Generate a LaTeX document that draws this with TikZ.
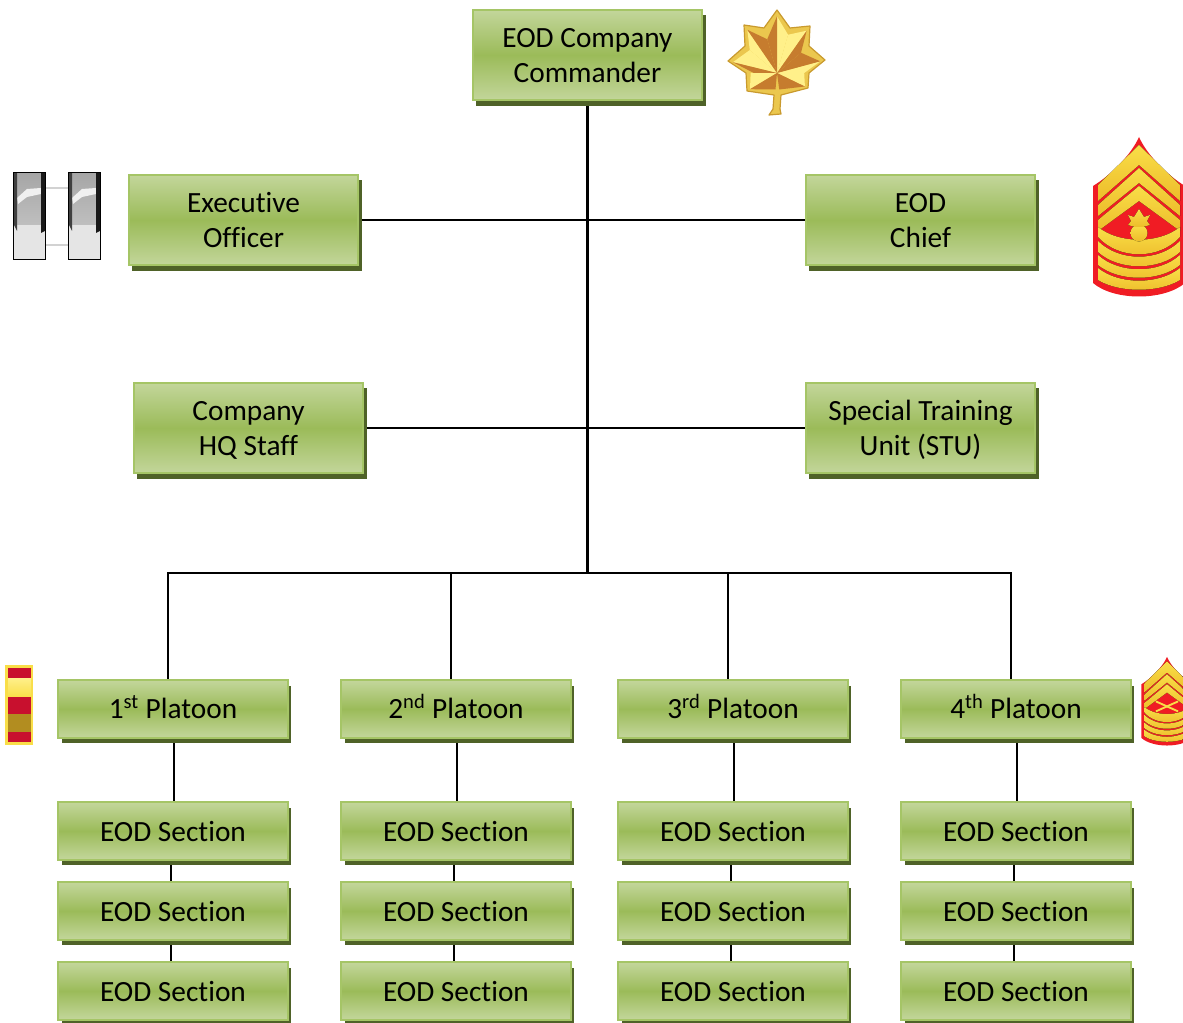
\documentclass[tikz,border=0pt]{standalone}
\usepackage{fontspec}
\setmainfont[Ligatures=NoCommon]{Carlito}
\usetikzlibrary{shadows,backgrounds,calc}
\definecolor{boxmid}{HTML}{9BBB59}
\definecolor{boxlight}{HTML}{C3D69B}
\definecolor{boxedge}{HTML}{A5C566}
\definecolor{boxshadow}{HTML}{4F6228}
\definecolor{stripered}{HTML}{F01C24}
\definecolor{stripegold}{HTML}{F9DE48}
\definecolor{stripedeep}{HTML}{EDBC2A}
\definecolor{leafgold}{HTML}{FFF08A}
\definecolor{leafbrown}{HTML}{C67C2E}
\definecolor{leafedge}{HTML}{C99A2E}
\definecolor{leafrim}{HTML}{EBC74E}
\definecolor{barred}{HTML}{C8102E}
\tikzset{
  orgbox/.style={draw=boxedge,line width=1.5pt,inner sep=0pt,align=center,
    minimum width=172pt,top color=boxlight,bottom color=boxlight,middle color=boxmid,
    font=\fontsize{22}{26.6}\selectfont,
    general shadow={shadow xshift=2.7pt,shadow yshift=-4.3pt,fill=boxshadow}},
  tallbox/.style={orgbox,minimum height=68pt},
  flatbox/.style={orgbox,minimum height=43pt},
  trunk/.style={line width=2.25pt,black},
  conn/.style={line width=1.5pt,black},
  goldband/.style={top color=stripegold,bottom color=stripedeep}
}
\newcommand{\ls}{\rule[-5.8pt]{0pt}{26.6pt}}
\newcommand{\blade}[3]{
  \fill[leafgold] (0,0) -- ($(0,0)!.85!(#1)$) -- ($(0,0)!.9!(#2)$) -- cycle;
  \fill[leafbrown] (0,0) -- ($(0,0)!.9!(#2)$) -- ($(0,0)!.75!(#3)$) -- cycle;
}
\newcommand{\oakleaf}{
  \begin{scope}[shift={(777,73)}]
    \filldraw[fill=leafrim,draw=leafedge,line width=.9pt,line join=round] (0,-63) -- (13,-45) -- (33,-47) -- (32,-27)
      -- (48,-13) -- (32,0) -- (31,15) -- (4,22) -- (3,36) -- (4,41) -- (-8,42) -- (-4,36)
      -- (-3,22) -- (-30,18) -- (-31,0) -- (-49,-12) -- (-32,-27) -- (-33,-48) -- (-13,-45) -- cycle;
    \blade{13,-45}{0,-63}{-13,-45}
    \blade{13,-45}{33,-47}{32,-27}
    \blade{32,0}{48,-13}{32,-27}
    \blade{32,0}{31,15}{3,22}
    \blade{-31,0}{-30,18}{-2,22}
    \blade{-32,-27}{-49,-12}{-31,0}
    \blade{-32,-27}{-33,-48}{-13,-45}
  \end{scope}
}
\newcommand{\silverbar}[1]{
  \begin{scope}[shift={(#1,173)}]
    \shade[top color=gray!70,bottom color=gray!50] (0,0) rectangle (32,52);
    \fill[gray!20] (0,52) rectangle (32,87);
    \fill[gray!12] (4,25) -- (14,16) -- (28,15) -- (28,21) -- (14,24) -- (5,31) -- cycle;
    \fill[black!75] (0,0) -- (4,0) -- (4,58) -- (0,50) -- cycle;
    \fill[black!90] (28,0) -- (32,0) -- (32,58) -- (28,60) -- cycle;
    \draw[black,line width=.75pt] (0,0) rectangle (32,87);
  \end{scope}
}
\newcommand{\chevron}[4]{
  \fill[goldband] (-41,#1) -- (0,#2) -- (41,#1) -- (41,#3) -- (0,#4) -- (-41,#3) -- cycle;
}
\newcommand{\rocker}[4]{
  \fill[goldband] (-41,#1) .. controls (-20,#2) and (20,#2) .. (41,#1) -- (41,#3)
    .. controls (20,#4) and (-20,#4) .. (-41,#3) -- cycle;
}
% #1 x of the tip, #2 y of the tip, #3 scale, #4 emblem
\newcommand{\stripes}[4]{
  \begin{scope}
    \clip (0,0) rectangle (1183,1023);
    \begin{scope}[shift={(#1,#2)},scale=#3]
      \fill[stripered] (0,0) .. controls (-8,18) and (-28,38) .. (-46,49) -- (-46,146)
        .. controls (-25,164) and (25,164) .. (46,146) -- (46,49)
        .. controls (28,38) and (8,18) .. (0,0) -- cycle;
      \chevron{48}{8}{64}{28}
      \chevron{68}{31}{79}{46}
      \chevron{83}{49}{94}{64}
      \rocker{90}{107}{100}{123}
      \rocker{104}{125}{115}{134}
      \rocker{118}{137}{128}{145}
      \rocker{131}{148}{143}{156}
      #4
    \end{scope}
  \end{scope}
}
\newcommand{\grenade}{
  \fill[goldband] (0,96) circle (8.5);
  \fill[goldband] (-4,90) -- (-11,88) -- (-8,84) -- (-11,78) -- (-5,80) -- (0,72)
    -- (5,80) -- (11,78) -- (8,84) -- (11,88) -- (4,90) -- cycle;
}
\newcommand{\rifles}{
  \draw[stripegold,line width=1.4pt] (-20,98) -- (20,80);
  \draw[stripegold,line width=1.4pt] (20,98) -- (-20,80);
}
\newcommand{\gunnerbar}{
  \fill[stripegold] (5,665) rectangle (33,745);
  \shade[top color=leafgold,bottom color=stripegold] (8,678) rectangle (31,697);
  \fill[black!25!stripedeep] (8,714) rectangle (31,732);
  \fill[barred] (8,668) rectangle (31,678);
  \fill[barred] (8,697) rectangle (31,714);
  \fill[barred] (8,732) rectangle (31,742);
}
% #1 tag, #2 x of the centre, #3 label
\newcommand{\pltcolumn}[3]{
  \node[flatbox] (p#1) at (#2,709) {\ls #3};
  \node[flatbox] (s#1a) at (#2,831) {\ls EOD Section};
  \node[flatbox] (s#1b) at (#2,911) {\ls EOD Section};
  \node[flatbox] (s#1c) at (#2,991) {\ls EOD Section};
  \begin{scope}[on background layer]
    \draw[conn] ([xshift=.75pt]p#1.south) -- ([xshift=.75pt]s#1a.north);
    \draw[conn] ([xshift=-1.5pt]s#1a.south) -- ([xshift=-1.5pt]s#1b.north);
    \draw[conn] ([xshift=-1.5pt]s#1b.south) -- ([xshift=-1.5pt]s#1c.north);
  \end{scope}
}
\begin{document}
\begin{tikzpicture}[x=.75pt,y=-.75pt]
  \useasboundingbox (0,0) rectangle (1183,1023);

  \node[tallbox] (cmd) at (587.5,55) {\ls EOD Company\\\ls Commander};
  \node[tallbox] (xo) at (243.5,220) {\ls Executive\\\ls Officer};
  \node[tallbox] (chief) at (920.5,220) {\ls EOD\\\ls Chief};
  \node[tallbox] (hq) at (248.5,428) {\ls Company\\\ls HQ Staff};
  \node[tallbox] (stu) at (920.5,428) {\ls Special Training\\\ls Unit (STU)};

  \pltcolumn{1}{173}{1\textsuperscript{st} Platoon}
  \pltcolumn{2}{456}{2\textsuperscript{nd} Platoon}
  \pltcolumn{3}{733}{3\textsuperscript{rd} Platoon}
  \pltcolumn{4}{1016}{4\textsuperscript{th} Platoon}

  \coordinate (bus) at (587.5,573);

  \begin{scope}[on background layer]
    \draw[trunk] (cmd.south) -- (bus);
    \draw[conn] (xo.east) -- (chief.west);
    \draw[conn] (hq.east) -- (stu.west);
    \draw[conn] ([xshift=-3.75pt]p1.north) |- (bus);
    \draw[conn] ([xshift=-3.75pt]p2.north) |- (bus);
    \draw[conn] ([xshift=-3.75pt]p3.north) |- (bus);
    \draw[conn] ([xshift=-3.75pt]p4.north) |- (bus);
  \end{scope}

  \oakleaf
  \draw[gray!35,line width=2.2pt] (45,188) -- (68,188);
  \draw[gray!35,line width=2.2pt] (45,245) -- (68,245);
  \silverbar{13}
  \silverbar{68}
  \stripes{1139}{137}{1}{\grenade}
  \stripes{1167}{657}{.555}{\rifles}
  \gunnerbar
\end{tikzpicture}
\end{document}
